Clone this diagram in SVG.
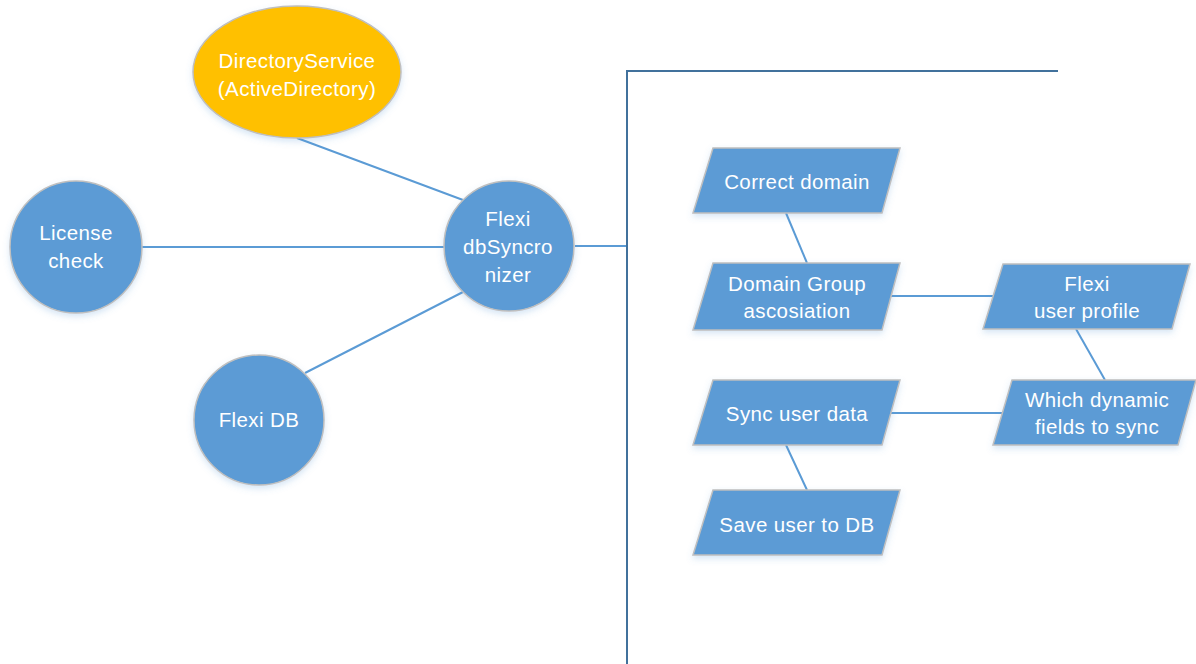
<svg xmlns="http://www.w3.org/2000/svg" width="1196" height="664" viewBox="0 0 1196 664">
<defs>
<filter id="sh" x="-20%" y="-20%" width="140%" height="150%">
<feDropShadow dx="0" dy="3" stdDeviation="3" flood-color="#5B9BD5" flood-opacity="0.25"/>
</filter>
</defs>
<style>
.n{fill:#5B9BD5;stroke:#BFBFBF;stroke-width:1.5;filter:url(#sh)}
.y{fill:#FFC000;stroke:#BFBFBF;stroke-width:1.5;filter:url(#sh)}
.t{font-family:"Liberation Sans",Arial,sans-serif;font-size:20.5px;letter-spacing:0.4px;fill:#FFFFFF;text-anchor:middle}
.c{stroke:#5B9BD5;stroke-width:2;fill:none}
.b{stroke:#41719C;stroke-width:2;fill:none}
</style>
<rect width="1196" height="664" fill="#FFFFFF"/>
<g id="connectors">
<line class="c" x1="297" y1="138" x2="463" y2="200"/>
<line class="c" x1="142" y1="247" x2="444" y2="247"/>
<line class="c" x1="305" y1="373" x2="463" y2="292"/>
<line class="c" x1="575" y1="246" x2="627" y2="246"/>
<polyline class="b" points="1058,71 627,71 627,664"/>
<line class="c" x1="786" y1="213" x2="807" y2="263"/>
<line class="c" x1="891" y1="296" x2="993" y2="296"/>
<line class="c" x1="1076" y1="329" x2="1105" y2="380"/>
<line class="c" x1="891" y1="413" x2="1002" y2="413"/>
<line class="c" x1="786" y1="445" x2="807" y2="490"/>
</g>
<g id="directory-service">
<ellipse class="y" cx="297" cy="72" rx="104" ry="66"/>
<text class="t" x="297" y="68">DirectoryService</text>
<text class="t" x="297" y="96">(ActiveDirectory)</text>
</g>
<g id="license-check">
<circle class="n" cx="76" cy="247" r="66"/>
<text class="t" x="76" y="240">License</text>
<text class="t" x="76" y="268">check</text>
</g>
<g id="flexi-dbsyncronizer">
<circle class="n" cx="509" cy="246" r="65"/>
<text class="t" x="508" y="226">Flexi</text>
<text class="t" x="508" y="254">dbSyncro</text>
<text class="t" x="508" y="282">nizer</text>
</g>
<g id="flexi-db">
<circle class="n" cx="259" cy="420" r="65"/>
<text class="t" x="259" y="427">Flexi DB</text>
</g>
<g id="correct-domain">
<polygon class="n" points="713,148 900,148 882,213 693,213"/>
<text class="t" x="797" y="189">Correct domain</text>
</g>
<g id="domain-group">
<polygon class="n" points="713,263 900,263 882,330 693,330"/>
<text class="t" x="797" y="291">Domain Group</text>
<text class="t" x="797" y="318">ascosiation</text>
</g>
<g id="flexi-user-profile">
<polygon class="n" points="1003,264 1190,264 1172,329 983,329"/>
<text class="t" x="1087" y="291">Flexi</text>
<text class="t" x="1087" y="318">user profile</text>
</g>
<g id="which-dynamic">
<polygon class="n" points="1012,380 1196,380 1178,445 993,445"/>
<text class="t" x="1097" y="407">Which dynamic</text>
<text class="t" x="1097" y="434">fields to sync</text>
</g>
<g id="sync-user-data">
<polygon class="n" points="713,380 900,380 882,445 693,445"/>
<text class="t" x="797" y="421">Sync user data</text>
</g>
<g id="save-user">
<polygon class="n" points="713,490 900,490 882,555 693,555"/>
<text class="t" x="797" y="532">Save user to DB</text>
</g>
</svg>
